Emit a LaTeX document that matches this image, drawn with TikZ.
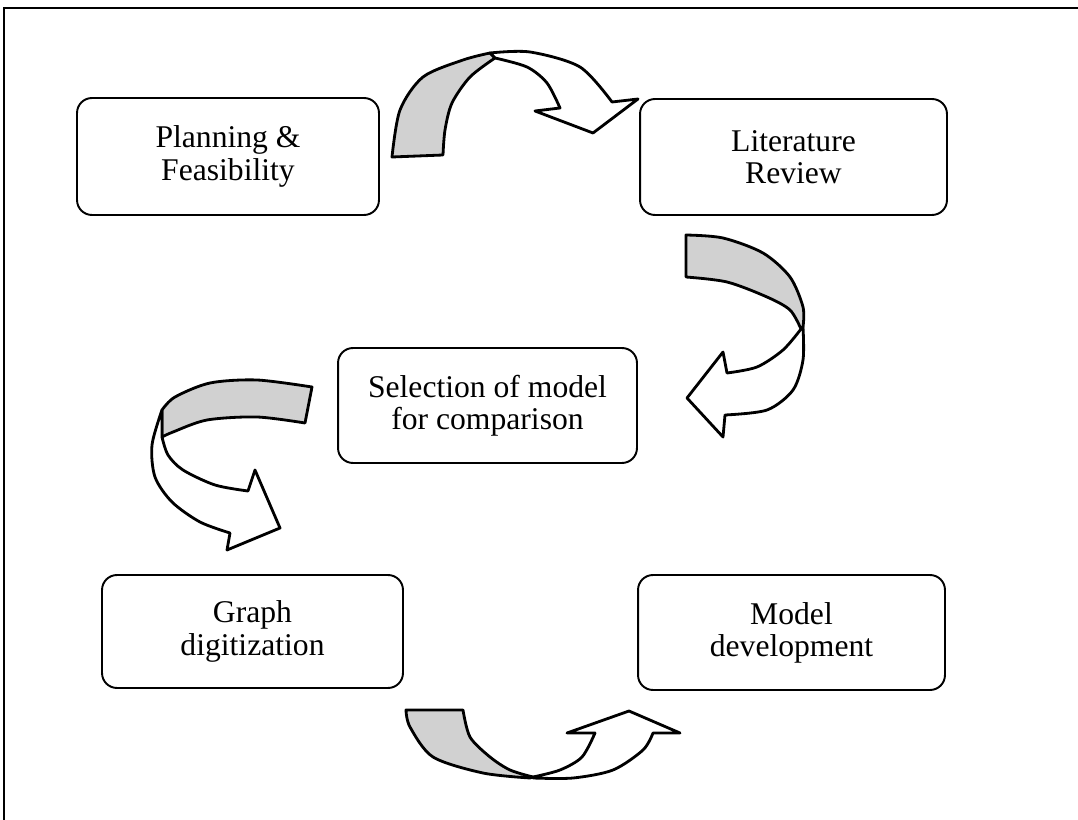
\documentclass[tikz,border=0pt]{standalone}
\usepackage{fontspec}
\setmainfont{Liberation Serif}
\usepackage{tikz}
\tikzset{
	stage/.style={draw, line width=1.1pt, rounded corners=8.5pt, align=center, inner sep=0pt, font=\fontsize{18}{18.3}\selectfont},
	backside/.style={draw, fill=black!18, line width=1.6pt, line join=round},
	frontside/.style={draw, fill=white, line width=1.6pt, line join=round}
}

\begin{document}
\begin{tikzpicture}[x=0.02cm, y=-0.02cm]
			%%%%% START %%%%%
			\useasboundingbox (0,0) rectangle (1078,820);
			
			\draw[line width=1.6pt] (4,820) -- (4,8) -- (1078,8);
			
			\node[stage, minimum width=6.04cm, minimum height=2.34cm] (plan) at (228,156.5) {Planning \&\\Feasibility};
			\node[stage, minimum width=6.14cm, minimum height=2.32cm] (lit) at (793.5,157) {Literature\\Review};
			\node[stage, minimum width=5.98cm, minimum height=2.3cm] (sel) at (487.5,405.5) {Selection of model\\for comparison};
			\node[stage, minimum width=6.02cm, minimum height=2.26cm] (graph) at (252.5,631.5) {Graph\\digitization};
			\node[stage, minimum width=6.14cm, minimum height=2.3cm] (model) at (791.5,632.5) {Model\\development};
			
			% plan -> lit
			\draw[backside] plot[smooth] coordinates {(392,157) (400,110) (423,77) (463,60) (490,53)} -- plot[smooth] coordinates {(495,58) (470,77) (452,103) (445,130) (443,155)} -- cycle;
			\draw[frontside] plot[smooth] coordinates {(490,53) (530,52) (580,67) (612,102)} -- (638,99) -- (593,133) -- (535,111) -- plot[smooth] coordinates {(560,108) (547,83) (527,67) (495,58)} -- cycle;
			
			% lit -> sel
			\draw[backside] plot[smooth] coordinates {(686,235) (723,238) (763,253) (790,277) (803,307) (803,327)} -- plot[smooth] coordinates {(801,329) (790,310) (767,297) (727,282) (686,277)} -- cycle;
			\draw[frontside] plot[smooth] coordinates {(803,327) (803,360) (793,390) (767,410) (725,415)} -- (723,437) -- (687,398) -- (723,352) -- plot[smooth] coordinates {(727,373) (757,367) (783,350) (801,329)} -- cycle;
			
			% sel -> graph
			\draw[backside] plot[smooth] coordinates {(312,387) (257,380) (210,383) (175,397) (162,410)} -- plot[smooth] coordinates {(162,437) (173,432) (207,420) (257,417) (305,423)} -- cycle;
			\draw[frontside] plot[smooth] coordinates {(162,410) (152,445) (155,477) (172,502) (200,522) (230,533)} -- (227,550) -- (280,528) -- (255,470) -- plot[smooth] coordinates {(248,491) (215,485) (183,470) (168,455) (162,437)} -- cycle;
			
			% graph -> model
			\draw[backside] plot[smooth] coordinates {(406,710) (410,727) (433,757) (483,773) (530,778)} -- plot[smooth] coordinates {(533,777) (510,770) (490,757) (470,737) (463,710)} -- cycle;
			\draw[frontside] plot[smooth] coordinates {(533,777) (560,770) (582,757) (595,733)} -- (567,733) -- (629,711) -- (680,733) -- plot[smooth] coordinates {(653,733) (643,750) (613,770) (573,778) (533,778)} -- cycle;
			
			%%%%% END %%%%%
		\end{tikzpicture}
\end{document}
